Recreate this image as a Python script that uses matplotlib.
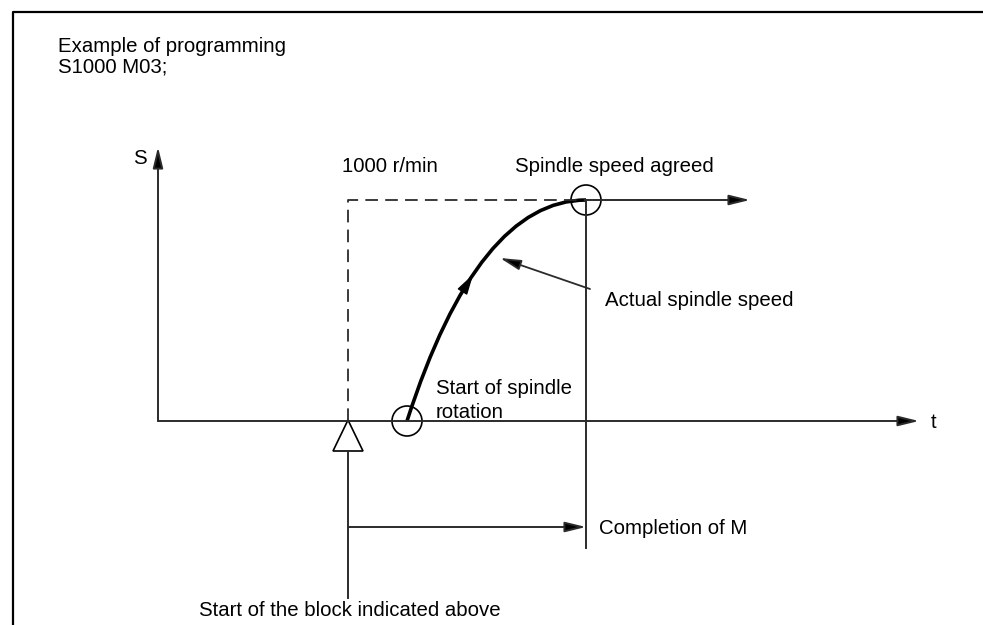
import numpy as np
import matplotlib.pyplot as plt
from matplotlib.patches import Circle, Polygon, PathPatch
from matplotlib.path import Path

plt.rcParams['font.family'] = ['Liberation Sans', 'DejaVu Sans']

# diagram coordinates (pixel-like units, y grows downward)
origin = (158, 421)
s_top = 147
t_end = 919
t_block = 348          # block start
t_agree = 586          # speed agreed / completion of M
s_level = 200          # 1000 r/min level
s_arrow_end = 750
completion_y = 527
block_line_bottom = 598

# actual spindle speed curve: start, control, end of a quadratic bezier
curve_start = (407, 421)
curve_ctrl = (478, 200)
curve_end = (586, 200)

fig = plt.figure(figsize=(9.83, 6.25), dpi=100)
ax = fig.add_axes([0, 0, 1, 1])
ax.set_xlim(0, 983)
ax.set_ylim(625, 0)
ax.axis('off')

line_c = '#2b2b2b'
head = '-|>,head_length=0.9,head_width=0.22'


def arrow(x0, y0, x1, y1, lw=1.4, color=line_c):
    ax.annotate('', xy=(x1, y1), xytext=(x0, y0),
                arrowprops=dict(arrowstyle=head, color=color, lw=lw,
                                mutation_scale=14, shrinkA=0, shrinkB=0,
                                fc='black'))


def bez(t):
    p0, p1, p2 = (np.array(p, float) for p in (curve_start, curve_ctrl, curve_end))
    return (1 - t) ** 2 * p0 + 2 * (1 - t) * t * p1 + t ** 2 * p2


# frame
ax.plot([13, 13, 983], [625, 12, 12], color='black', lw=1.6)

# axes
arrow(origin[0], origin[1], origin[0], s_top)
arrow(origin[0], origin[1], t_end, origin[1])

# commanded speed (dashed)
ax.plot([t_block, t_block, t_agree], [origin[1], s_level, s_level],
        color=line_c, lw=1.3, dashes=(7, 4))
arrow(t_agree, s_level, s_arrow_end, s_level)
ax.plot([t_agree, t_agree], [s_level, 548], color=line_c, lw=1.4)

# actual speed curve with direction arrow
path = Path([curve_start, curve_ctrl, curve_end],
            [Path.MOVETO, Path.CURVE3, Path.CURVE3])
ax.add_patch(PathPatch(path, fill=False, ec='black', lw=2.6))
a0, a1 = bez(0.34), bez(0.42)
ax.annotate('', xy=a1, xytext=a0,
            arrowprops=dict(arrowstyle='-|>,head_length=0.9,head_width=0.25',
                            color='black', lw=1.0, mutation_scale=14,
                            shrinkA=0, shrinkB=0))

# marker circles
for cx, cy in [curve_end, curve_start]:
    ax.add_patch(Circle((cx, cy), 15, fill=False, ec='black', lw=1.2))

# block start triangle and line
ax.add_patch(Polygon([(t_block, origin[1] - 1), (t_block - 15, 451), (t_block + 15, 451)],
                     closed=True, fill=False, ec='black', lw=1.2))
ax.plot([t_block, t_block], [451, block_line_bottom], color=line_c, lw=1.4)
arrow(t_block, completion_y, t_agree, completion_y)

# pointer to the curve
arrow(590, 289, 500, 258, lw=1.3)

fs = 14.7
ax.text(58, 47, 'Example of programming', fontsize=fs, va='center')
ax.text(58, 67, 'S1000 M03;', fontsize=fs, va='center')
ax.text(133, 158, 'S', fontsize=fs, va='center')
ax.text(931, 423, 't', fontsize=fs, va='center')
ax.text(342, 167, '1000 r/min', fontsize=fs, va='center')
ax.text(515, 167, 'Spindle speed agreed', fontsize=fs, va='center')
ax.text(605, 300, 'Actual spindle speed', fontsize=fs, va='center')
ax.text(436, 388, 'Start of spindle', fontsize=fs, va='center')
ax.text(436, 412, 'rotation', fontsize=fs, va='center')
ax.text(599, 528, 'Completion of M', fontsize=fs, va='center')
ax.text(350, 611, 'Start of the block indicated above', fontsize=fs,
        va='center', ha='center')

fig.savefig('out.png', dpi=100)
